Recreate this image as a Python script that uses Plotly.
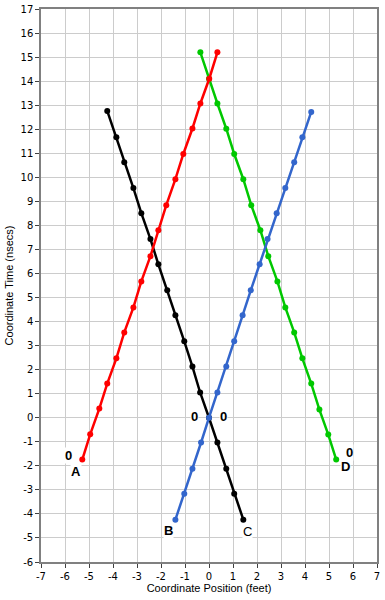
import plotly.graph_objects as go

# Worldline A (red)
a_x = [-5.28, -4.95, -4.57, -4.24, -3.86, -3.53, -3.15, -2.82, -2.44, -2.11, -1.78, -1.40, -1.07, -0.69, -0.36, 0.01, 0.35]
a_y = [-1.74, -0.69, 0.38, 1.42, 2.47, 3.55, 4.59, 5.67, 6.72, 7.80, 8.84, 9.92, 10.97, 12.03, 13.07, 14.10, 15.20]
# Worldline D (green)
d_x = [5.30, 4.97, 4.60, 4.26, 3.89, 3.55, 3.18, 2.85, 2.47, 2.14, 1.76, 1.43, 1.05, 0.72, 0.35, 0.00, -0.36]
d_y = [-1.74, -0.70, 0.34, 1.42, 2.47, 3.55, 4.59, 5.67, 6.72, 7.80, 8.84, 9.92, 10.97, 12.02, 13.07, 14.10, 15.20]
# Worldline C (black)
c_x = [-4.24, -3.86, -3.53, -3.15, -2.82, -2.44, -2.11, -1.74, -1.40, -1.03, -0.69, -0.37, 0.00, 0.35, 0.72, 1.05, 1.43]
c_y = [12.76, 11.67, 10.63, 9.55, 8.51, 7.43, 6.38, 5.30, 4.26, 3.18, 2.13, 1.05, 0.00, -1.03, -2.12, -3.16, -4.24]
# Worldline B (blue)
b_x = [-1.40, -1.03, -0.69, -0.33, 0.00, 0.35, 0.72, 1.05, 1.40, 1.74, 2.11, 2.44, 2.82, 3.18, 3.55, 3.89, 4.26]
b_y = [-4.24, -3.16, -2.12, -1.03, 0.00, 1.05, 2.13, 3.18, 4.26, 5.30, 6.38, 7.43, 8.51, 9.55, 10.63, 11.67, 12.72]

x_ticks = list(range(-7, 8))
y_ticks = list(range(-6, 18))

series = [
    ("D", d_x, d_y, "#00C800"),
    ("C", c_x, c_y, "#000000"),
    ("A", a_x, a_y, "#FF0000"),
    ("B", b_x, b_y, "#3366CC"),
]

fig = go.Figure()
for name, xs, ys, col in series:
    fig.add_trace(go.Scatter(
        x=xs, y=ys, mode="lines+markers", name=name,
        line=dict(color=col, width=2.5),
        marker=dict(color=col, size=6),
        showlegend=False, hoverinfo="skip",
    ))

lab_font = dict(family="Liberation Sans", size=13, color="black")
def label(text, x, y, dx, dy, bold=True):
    fig.add_annotation(
        x=x, y=y, text=f"<b>{text}</b>" if bold else text,
        showarrow=False, xshift=dx, yshift=dy,
        font=lab_font, bgcolor="white", borderpad=0,
    )

label("0", a_x[0], a_y[0], -14, 4)
label("A", a_x[0], a_y[0], -6, -12)
label("B", b_x[0], b_y[0], -7, -11)
label("C", c_x[-1], c_y[-1], 4, -12, bold=False)
label("0", d_x[0], d_y[0], 13, 7)
label("D", d_x[0], d_y[0], 9, -7)
label("0", c_x[12], c_y[12], -15, 1)
label("0", c_x[12], c_y[12], 14, 1)

tick_font = dict(family="DejaVu Sans", size=10, color="black")
title_font = dict(family="Liberation Sans", size=11, color="black")
axis_common = dict(
    showgrid=True, gridcolor="#CCCCCC", gridwidth=1,
    showline=True, linecolor="#808080", linewidth=1.5, mirror=True,
    ticks="outside", ticklen=4, tickcolor="#404040", tickwidth=1,
    zeroline=False, tickfont=tick_font, automargin=False,
)
fig.update_xaxes(
    range=[-7, 7], tickvals=x_ticks, ticktext=[str(v) for v in x_ticks],
    title=dict(text="Coordinate Position (feet)", font=title_font, standoff=3),
    **axis_common,
)
fig.update_yaxes(
    range=[-6, 17], tickvals=y_ticks, ticktext=[str(v) for v in y_ticks],
    title=dict(text="Coordinate Time (nsecs)", font=title_font, standoff=5),
    **axis_common,
)
fig.update_layout(
    width=385, height=600,
    margin=dict(l=41, r=8, t=9, b=38),
    paper_bgcolor="white", plot_bgcolor="white",
)
fig.write_html(
    "out.html",
    config={"displayModeBar": False},
    post_script="document.body.style.margin='0';document.body.style.overflow='hidden';",
)
